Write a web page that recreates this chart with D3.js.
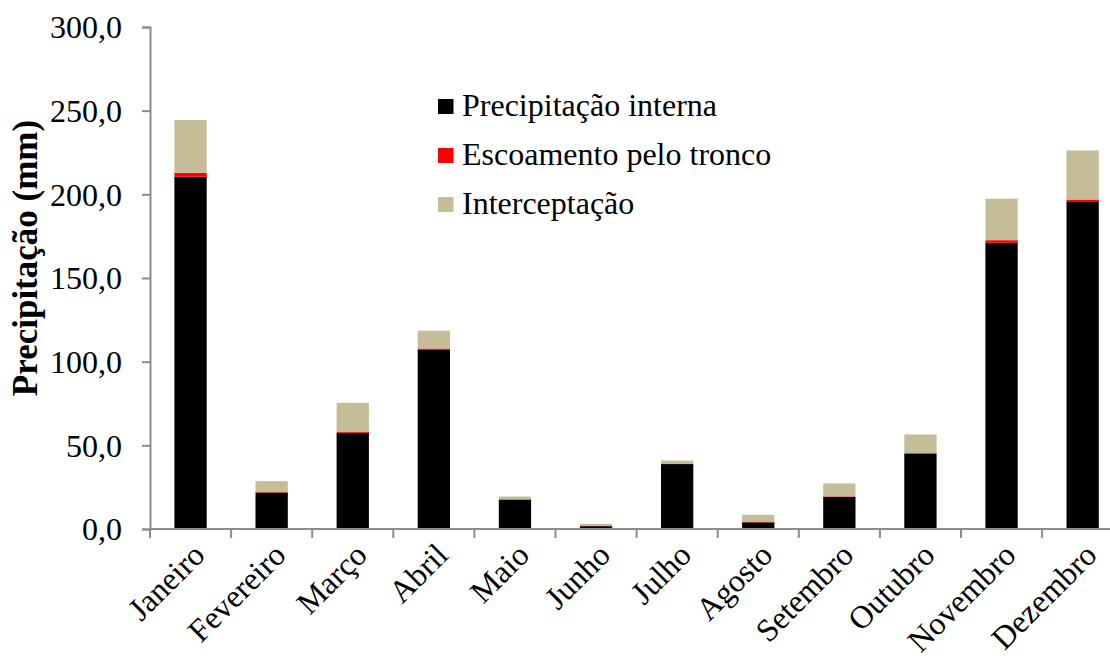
<!DOCTYPE html>
<html>
<head>
<meta charset="utf-8">
<script src="https://cdn.jsdelivr.net/npm/d3@7"></script>
<style>
  html, body { margin: 0; padding: 0; background: #fff; }
  svg { display: block; }
  svg text { font-family: "Liberation Serif", "Times New Roman", serif !important; fill: #000; }
</style>
</head>
<body>
<svg id="chart" width="1110" height="662"></svg>
<script>
// Monthly rainfall partition (mm)
const months = ["Janeiro", "Fevereiro", "Março", "Abril", "Maio", "Junho",
                "Julho", "Agosto", "Setembro", "Outubro", "Novembro", "Dezembro"];
const precipInterna = [210.5, 21.8, 57.5, 107.3, 17.5, 1.7, 38.8, 4.0, 19.2, 45.0, 171.0, 195.4];
const escoamento    = [2.4, 0.3, 0.6, 0.6, 0.3, 0.1, 0.3, 0.2, 0.3, 0.4, 1.6, 1.5];
const interceptacao = [31.5, 6.5, 17.3, 10.6, 1.6, 1.3, 1.8, 4.3, 7.7, 11.1, 24.8, 29.3];
const yTicks = [0, 50, 100, 150, 200, 250, 300];

const seriesNames = ["Precipitação interna", "Escoamento pelo tronco", "Interceptação"];
const seriesColors = ["#000000", "#ff0000", "#c4bd97"];

const rows = months.map((m, i) => ({
  month: m,
  "Precipitação interna": precipInterna[i],
  "Escoamento pelo tronco": escoamento[i],
  "Interceptação": interceptacao[i]
}));

const svg = d3.select("#chart");
const x0 = 150, step = 81.1;
const x = d3.scaleBand().domain(months).range([x0, x0 + step * months.length]).padding(0);
const y = d3.scaleLinear().domain([0, 300]).range([529, 27]);
const barW = 32.3;

const ptBR = d3.formatLocale({ decimal: ",", thousands: ".", grouping: [3], currency: ["R$", ""] });
const fmt = ptBR.format(".1f");

const stack = d3.stack().keys(seriesNames)(rows);

// stacked bars
svg.append("g").selectAll("g")
  .data(stack)
  .join("g")
  .attr("fill", (d, i) => seriesColors[i])
  .selectAll("rect")
  .data(d => d)
  .join("rect")
  .attr("x", d => x(d.data.month) + x.bandwidth() / 2 - barW / 2)
  .attr("width", barW)
  .attr("y", d => y(d[1]))
  .attr("height", d => y(d[0]) - y(d[1]));

const axisColor = "#8c8c8c";

// y axis
const yAxis = svg.append("g")
  .attr("transform", `translate(${x0},0)`)
  .call(d3.axisLeft(y).tickValues(yTicks).tickFormat(fmt).tickSize(8).tickPadding(20));
yAxis.select(".domain").attr("stroke", axisColor).attr("stroke-width", 2);
yAxis.selectAll(".tick line").attr("stroke", axisColor).attr("stroke-width", 2);
yAxis.selectAll(".tick text")
  .style("font-size", "32px")
  .attr("dy", "0.34em")
  .attr("fill", "#000");

// x axis with ticks between categories
const xAxis = svg.append("g").attr("transform", "translate(0,529)");
xAxis.append("line")
  .attr("x1", x0).attr("x2", x.range()[1])
  .attr("stroke", axisColor).attr("stroke-width", 2);
xAxis.selectAll("line.sep")
  .data(months)
  .join("line")
  .attr("class", "sep")
  .attr("x1", d => x(d)).attr("x2", d => x(d))
  .attr("y1", 0).attr("y2", 9)
  .attr("stroke", axisColor).attr("stroke-width", 2);
xAxis.selectAll("text.lbl")
  .data(months)
  .join("text")
  .attr("class", "lbl")
  .attr("text-anchor", "end")
  .attr("transform", d => `translate(${x(d) + x.bandwidth() / 2 + 16},${28}) rotate(-45)`)
  .style("font-size", "32px")
  .text(d => d);

// y axis title
svg.append("text")
  .attr("transform", "translate(37,258) rotate(-90)")
  .attr("text-anchor", "middle")
  .style("font-size", "35px")
  .style("font-weight", "bold")
  .text("Precipitação (mm)");

// legend
const legend = svg.append("g").attr("transform", "translate(438,99)");
seriesNames.forEach((name, i) => {
  const g = legend.append("g").attr("transform", `translate(0,${i * 49})`);
  g.append("rect").attr("width", 15.5).attr("height", 15).attr("fill", seriesColors[i]);
  g.append("text").attr("x", 24).attr("y", 17).style("font-size", "32px").text(name);
});
</script>
</body>
</html>
